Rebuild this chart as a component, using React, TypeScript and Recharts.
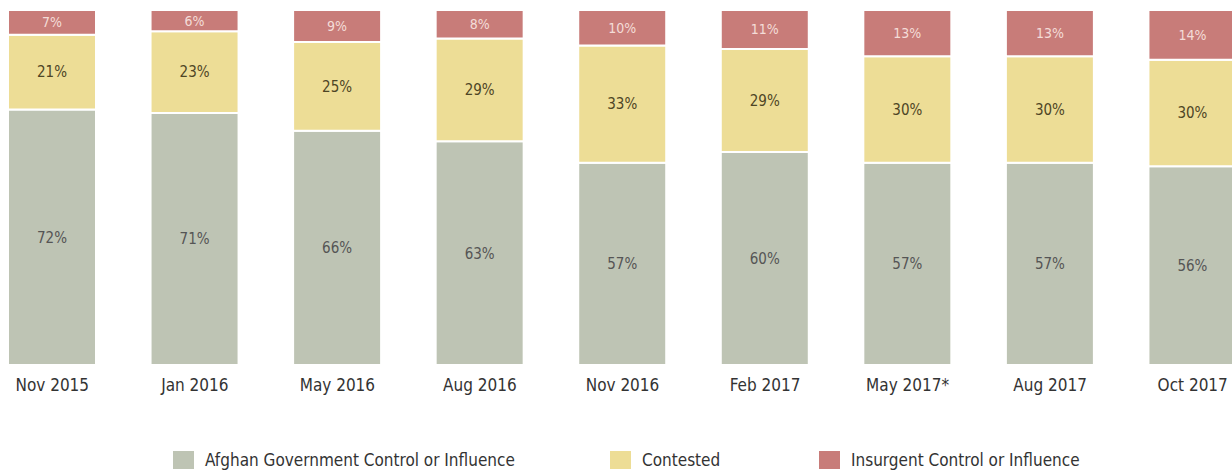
import { BarChart, Bar, XAxis, YAxis, Legend, LabelList } from 'recharts';

const periods = ['Nov 2015', 'Jan 2016', 'May 2016', 'Aug 2016', 'Nov 2016', 'Feb 2017', 'May 2017*', 'Aug 2017', 'Oct 2017'];
const govValues = [72, 71, 66, 63, 57, 60, 57, 57, 56];
const contestedValues = [21, 23, 25, 29, 33, 29, 30, 30, 30];
const insurgentValues = [7, 6, 9, 8, 10, 11, 13, 13, 14];

const seriesNames = ['Afghan Government Control or Influence', 'Contested', 'Insurgent Control or Influence'];

const COLORS = {
  gov: '#bec4b4',
  contested: '#eddd96',
  insurgent: '#c87c79',
};

const FONT = "'Liberation Sans Narrow', 'DejaVu Sans Condensed', 'Roboto Condensed', sans-serif";

const data = periods.map((p, i) => ({
  period: p,
  gov: govValues[i],
  contested: contestedValues[i],
  insurgent: insurgentValues[i],
}));

// legend item x positions (relative to the chart's left edge)
const legendX = [192, 629, 838];

function renderLegend(props: any) {
  const payload = props.payload || [];
  return (
    <div style={{ position: 'relative', height: 70, width: 1283 }}>
      {payload.map((item: any, i: number) => (
        <div
          key={item.value}
          style={{
            position: 'absolute',
            left: legendX[i],
            top: 55,
            display: 'flex',
            alignItems: 'center',
            fontFamily: FONT,
            fontSize: 17,
            color: '#333',
            whiteSpace: 'nowrap',
          }}
        >
          <span style={{ display: 'inline-block', width: 21, height: 18, background: item.color, marginRight: 11 }} />
          {item.value}
        </div>
      ))}
    </div>
  );
}

export default function App() {
  return (
    <div style={{ position: 'fixed', left: 0, top: 0, width: 1232, height: 470, overflow: 'hidden', background: '#fff' }}>
      <div style={{ position: 'absolute', left: -19, top: 0 }}>
        <BarChart
          width={1283}
          height={470}
          data={data}
          margin={{ top: 10, right: 0, left: 0, bottom: 5 }}
          barSize={88}
        >
          <XAxis
            dataKey="period"
            axisLine={false}
            tickLine={false}
            height={30}
            tick={{ fontFamily: FONT, fontSize: 17, fill: '#333' }}
            tickMargin={8}
            interval={0}
          />
          <YAxis hide domain={[0, 100]} />
          <Legend verticalAlign="bottom" content={renderLegend} />
          <Bar dataKey="gov" name={seriesNames[0]} stackId="a" fill={COLORS.gov} stroke="#fff" strokeWidth={2} isAnimationActive={false}>
            <LabelList dataKey="gov" position="center" formatter={(v: any) => `${v}%`} style={{ fontFamily: FONT, fontSize: 15, fill: '#555' }} />
          </Bar>
          <Bar dataKey="contested" name={seriesNames[1]} stackId="a" fill={COLORS.contested} stroke="#fff" strokeWidth={2} isAnimationActive={false}>
            <LabelList dataKey="contested" position="center" formatter={(v: any) => `${v}%`} style={{ fontFamily: FONT, fontSize: 15, fill: '#4d4525' }} />
          </Bar>
          <Bar dataKey="insurgent" name={seriesNames[2]} stackId="a" fill={COLORS.insurgent} stroke="#fff" strokeWidth={2} isAnimationActive={false}>
            <LabelList dataKey="insurgent" position="center" formatter={(v: any) => `${v}%`} style={{ fontFamily: FONT, fontSize: 14, fill: '#f4dcd8' }} />
          </Bar>
        </BarChart>
      </div>
    </div>
  );
}
